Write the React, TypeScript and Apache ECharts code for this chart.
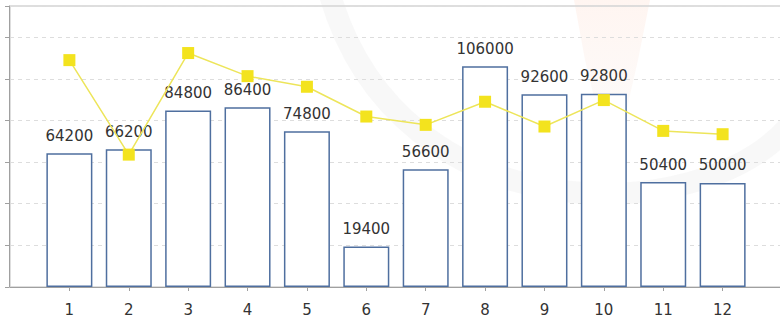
import React, { useEffect, useRef } from "react";
import * as echarts from "echarts";

const categories = ["1", "2", "3", "4", "5", "6", "7", "8", "9", "10", "11", "12"];
const barValues = [64200, 66200, 84800, 86400, 74800, 19400, 56600, 106000, 92600, 92800, 50400, 50000];
const lineValues = [109000, 63600, 112400, 101300, 96200, 81900, 77900, 89000, 77100, 89800, 75000, 73400];
const yMax = 135000;
const yInterval = 20000;

const axisCategories = ["", ...categories, ""];

export default function App() {
  const ref = useRef<HTMLDivElement>(null);
  useEffect(() => {
    if (!ref.current) return;
    document.body.style.margin = "0";
    const chart = echarts.init(ref.current, undefined, { renderer: "svg" });
    const font = "DejaVu Sans";
    const last = axisCategories.length - 1;
    chart.setOption({
      animation: false,
      backgroundColor: "#ffffff",
      graphic: [
        {
          type: "bezierCurve",
          z: -10,
          silent: true,
          shape: { x1: 330, y1: -5, cpx1: 400, cpy1: 235, cpx2: 700, cpy2: 230, x2: 790, y2: 125 },
          style: { stroke: "rgba(225,225,225,0.22)", lineWidth: 22, fill: null },
        },
        {
          type: "polygon",
          z: -10,
          silent: true,
          shape: { points: [[574, 0], [650, 0], [638, 60], [622, 130], [613, 180], [602, 130], [585, 60]] },
          style: {
            fill: new echarts.graphic.LinearGradient(0, 0, 0, 1, [
              { offset: 0, color: "rgba(255,210,190,0.22)" },
              { offset: 1, color: "rgba(235,235,235,0.12)" },
            ]),
          },
        },
      ],
      grid: {
        left: 10,
        right: 0,
        top: 6,
        bottom: 29,
        containLabel: false,
        show: true,
        backgroundColor: "transparent",
        borderColor: "#d4d4d4",
        borderWidth: 1.5,
      },
      xAxis: {
        type: "category",
        data: axisCategories,
        boundaryGap: false,
        axisLine: { show: true, lineStyle: { color: "#a0a0a0", width: 1 } },
        axisTick: {
          show: true,
          length: 4,
          interval: (i: number) => i > 0 && i < last,
          lineStyle: { color: "#a0a0a0" },
        },
        axisLabel: { interval: 0, fontSize: 15, fontFamily: font, color: "#333", margin: 15 },
        splitLine: { show: false },
      },
      yAxis: {
        type: "value",
        min: 0,
        max: yMax,
        interval: yInterval,
        offset: 1,
        axisLine: { show: true, lineStyle: { color: "#a0a0a0", width: 1 } },
        axisTick: { show: true, length: 4, lineStyle: { color: "#a0a0a0" } },
        axisLabel: { show: false },
        splitLine: { show: true, lineStyle: { color: "#dddddd", type: [4, 4], width: 1 } },
      },
      series: [
        {
          type: "bar",
          data: [null, ...barValues, null],
          barWidth: 46,
          itemStyle: { color: "#ffffff", borderColor: "#4f6f9f", borderWidth: 1.5 },
          label: {
            show: true,
            position: "top",
            distance: 10,
            fontSize: 15,
            fontFamily: font,
            color: "#333",
          },
          z: 2,
        },
        {
          type: "line",
          data: [null, ...lineValues, null],
          symbol: "rect",
          symbolSize: 12,
          lineStyle: { color: "#ede55a", width: 1.5 },
          itemStyle: { color: "#f3e31e" },
          z: 3,
        },
      ],
    });
    return () => chart.dispose();
  }, []);
  return (
    <div style={{ width: 780, height: 317, overflow: "hidden" }}>
      <div ref={ref} style={{ width: 785, height: 317 }} />
    </div>
  );
}
